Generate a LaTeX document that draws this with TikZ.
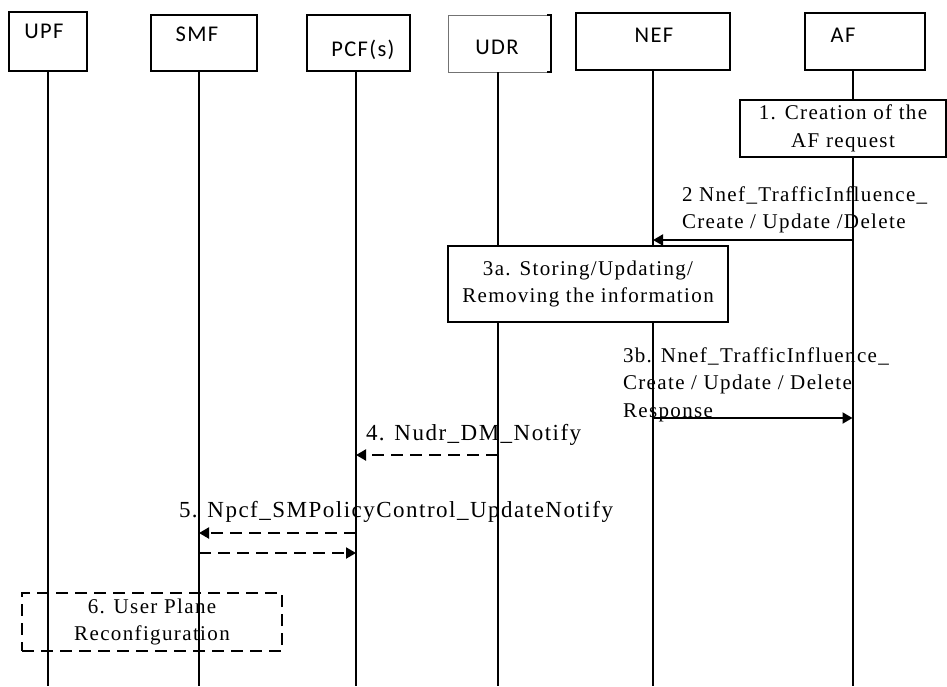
\documentclass[tikz,border=0pt]{standalone}
\usepackage{fontspec}
\setmainfont{Liberation Serif}[LetterSpace=6.5]
\newfontfamily\hdrfont{Carlito}[LetterSpace=6]
\usepackage{tikz}
\usetikzlibrary{shapes,arrows.meta,positioning}

\tikzset{
	hdrbox/.style={draw, inner sep=0pt, minimum height=57pt},
	hdrtext/.style={font=\hdrfont\fontsize{22.5}{26}\selectfont, inner sep=0pt},
	procbox/.style={draw, fill=white, align=center, inner sep=0pt, font=\fontsize{21}{27.5}\selectfont},
	msgtext/.style={align=left, anchor=west, inner sep=0pt, font=\fontsize{21}{27.5}\selectfont},
	bigtext/.style={msgtext, font=\fontsize{23}{27}\selectfont},
	msg/.style={-{Triangle[length=10pt,width=11pt]}},
	dmsg/.style={msg, dash pattern=on 12pt off 7pt}
}

\begin{document}
\begin{tikzpicture}[x=1pt, y=-1pt, line width=2pt]
	\useasboundingbox (0,0) rectangle (947,686);

	% network functions on top
	\node[hdrbox, minimum width=78pt, minimum height=59pt] (upf) at (48,41.5) {};
	\node[hdrbox, minimum width=106pt, minimum height=56pt] (smf) at (204,43) {};
	\node[hdrbox, minimum width=103pt, minimum height=56pt] (pcf) at (358.5,43) {};
	\node[hdrbox, minimum width=103pt, line width=0.8pt, draw=black!55] (udr) at (499.5,43.5) {};
	\node[hdrbox, minimum width=154pt] (nef) at (653,41.5) {};
	\node[hdrbox, minimum width=120pt] (af) at (865,41.5) {};
	\draw ([xshift=-4pt]udr.north east) -- (udr.north east) -- (udr.south east) -- ([xshift=-4pt]udr.south east); % UDR box only has its right side thick

	\node[hdrtext] (upf-t) at (44,31) {UPF};
	\node[hdrtext] (smf-t) at (197,34) {SMF};
	\node[hdrtext] (pcf-t) at (363,50) {PCF(s)};
	\node[hdrtext] (udr-t) at (497,47) {UDR};
	\node[hdrtext] (nef-t) at (654,35) {NEF};
	\node[hdrtext] (af-t) at (843,35) {AF};

	% life lines
	\foreach \n/\x in {upf/48, smf/199, pcf/356, udr/497.5, nef/653, af/852.5}{
		\coordinate (\n-l) at (\x,0 |- \n.south);
		\coordinate (\n-e) at (\x,686);
		\draw (\n-l) -- (\n-e);
	}

	% steps
	\node[procbox, minimum width=206pt, minimum height=57pt] (create) at (843,128.5) {1. Creation of the\\AF request};
	\node[procbox, minimum width=280pt, minimum height=76pt] (store) at (588,284) {3a. Storing/Updating/\\Removing the information};
	\node[procbox, fill=none, dash pattern=on 12pt off 7pt, minimum width=260pt, minimum height=58pt] (uprec) at (152,622) {6. User Plane\\Reconfiguration}; % dashed, life lines run through it

	% messages
	\draw[msg] (af-l |- 0,240) -- (nef-l |- 0,240);
	\node[msgtext] (m2-t) at (681,210) {2 Nnef\_TrafficInfluence\_\\Create / Update /Delete};

	\draw[msg] (nef-l |- 0,418) -- (af-l |- 0,418);
	\node[msgtext] (m3b-t) at (622,384.5) {3b. Nnef\_TrafficInfluence\_\\Create / Update / Delete\\Response};

	\draw[dmsg] (udr-l |- 0,455) -- (pcf-l |- 0,455);
	\node[bigtext] (m4-t) at (365,435) {4. Nudr\_DM\_Notify};

	\draw[dmsg] (pcf-l |- 0,533) -- (smf-l |- 0,533);
	\draw[dmsg] (smf-l |- 0,553) -- (pcf-l |- 0,553);
	\node[bigtext] (m5-t) at (178,512) {5. Npcf\_SMPolicyControl\_UpdateNotify};

\end{tikzpicture}
\end{document}
